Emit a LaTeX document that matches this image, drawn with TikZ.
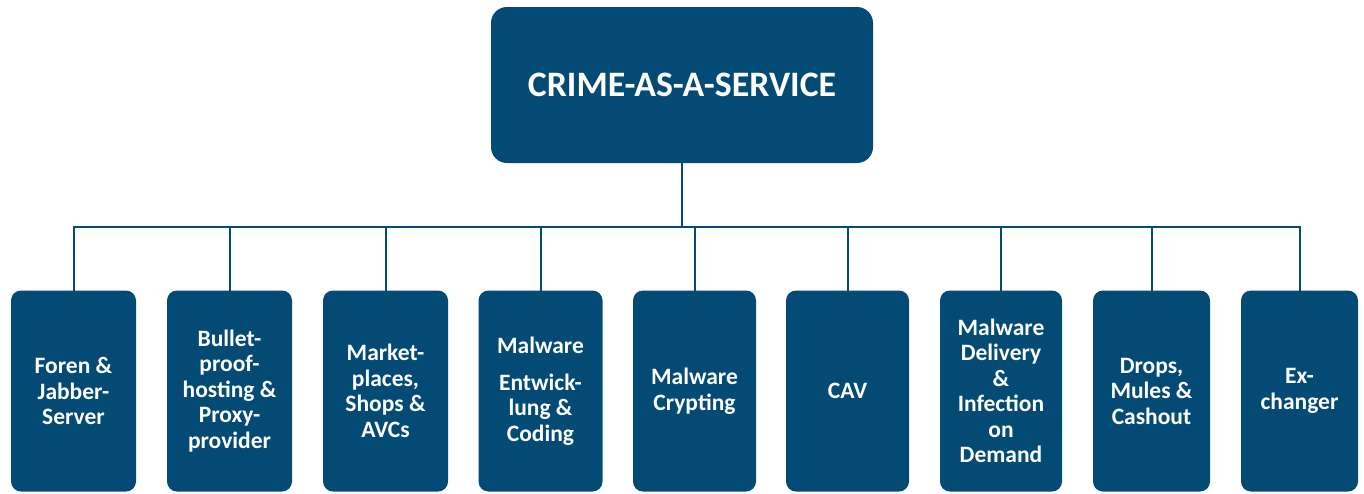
\documentclass[tikz,border=0pt]{standalone}
\usepackage{fontspec}
\setmainfont{Carlito}
\usepackage{xcolor}
\usepackage{tikz}
\usetikzlibrary{positioning}
\definecolor{caasblue}{RGB}{3,74,116}

\begin{document}
\begin{tikzpicture}[x=1pt,y=-1pt,
    topbox/.style={fill=caasblue,rounded corners=16pt,minimum width=382pt,minimum height=156pt,
      inner sep=0pt,text=white,font=\fontsize{35.8}{40}\selectfont\bfseries},
    servicebox/.style={fill=caasblue,rounded corners=10pt,minimum height=201pt,inner sep=0pt,
      text=white,align=center,font=\fontsize{23.5}{25.5}\selectfont\bfseries},
    link/.style={caasblue,line width=2pt}]
    \useasboundingbox (0,0) rectangle (1364,493);

    % Top box
    \node[topbox] (caas) at (682,85) {CRIME-AS-A-SERVICE};

    % Service boxes
    \node[servicebox,minimum width=125pt] (foren) at (73.5,391) {Foren \&\\Jabber-\\Server};
    \node[servicebox,minimum width=125pt] (hosting) at (229.5,391) {Bullet-\\proof-\\hosting \&\\Proxy-\\provider};
    \node[servicebox,minimum width=125pt] (markets) at (385.5,391) {Market-\\places,\\Shops \&\\AVCs};
    \node[servicebox,minimum width=124pt] (coding) at (540.5,391) {Malware\\[11pt]Entwick-\\lung \&\\Coding};
    \node[servicebox,minimum width=123pt] (crypting) at (694.5,391) {Malware\\Crypting};
    \node[servicebox,minimum width=123pt] (cav) at (847.5,391) {CAV};
    \node[servicebox,minimum width=122pt] (delivery) at (1001,391) {Malware\\Delivery\\\&\\Infection\\on\\Demand};
    \node[servicebox,minimum width=117pt] (drops) at (1151.5,391) {Drops,\\Mules \&\\Cashout};
    \node[servicebox,minimum width=117pt] (exchanger) at (1299.5,391) {Ex-\\changer};

    % Connectors
    \draw[link] (caas.south) -- ++(0,64) coordinate (hub);
    \foreach \n in {foren,hosting,markets,coding,crypting,cav,delivery,drops,exchanger}
      \draw[link] (hub) -| ([yshift=-3pt]\n.north);
\end{tikzpicture}
\end{document}
